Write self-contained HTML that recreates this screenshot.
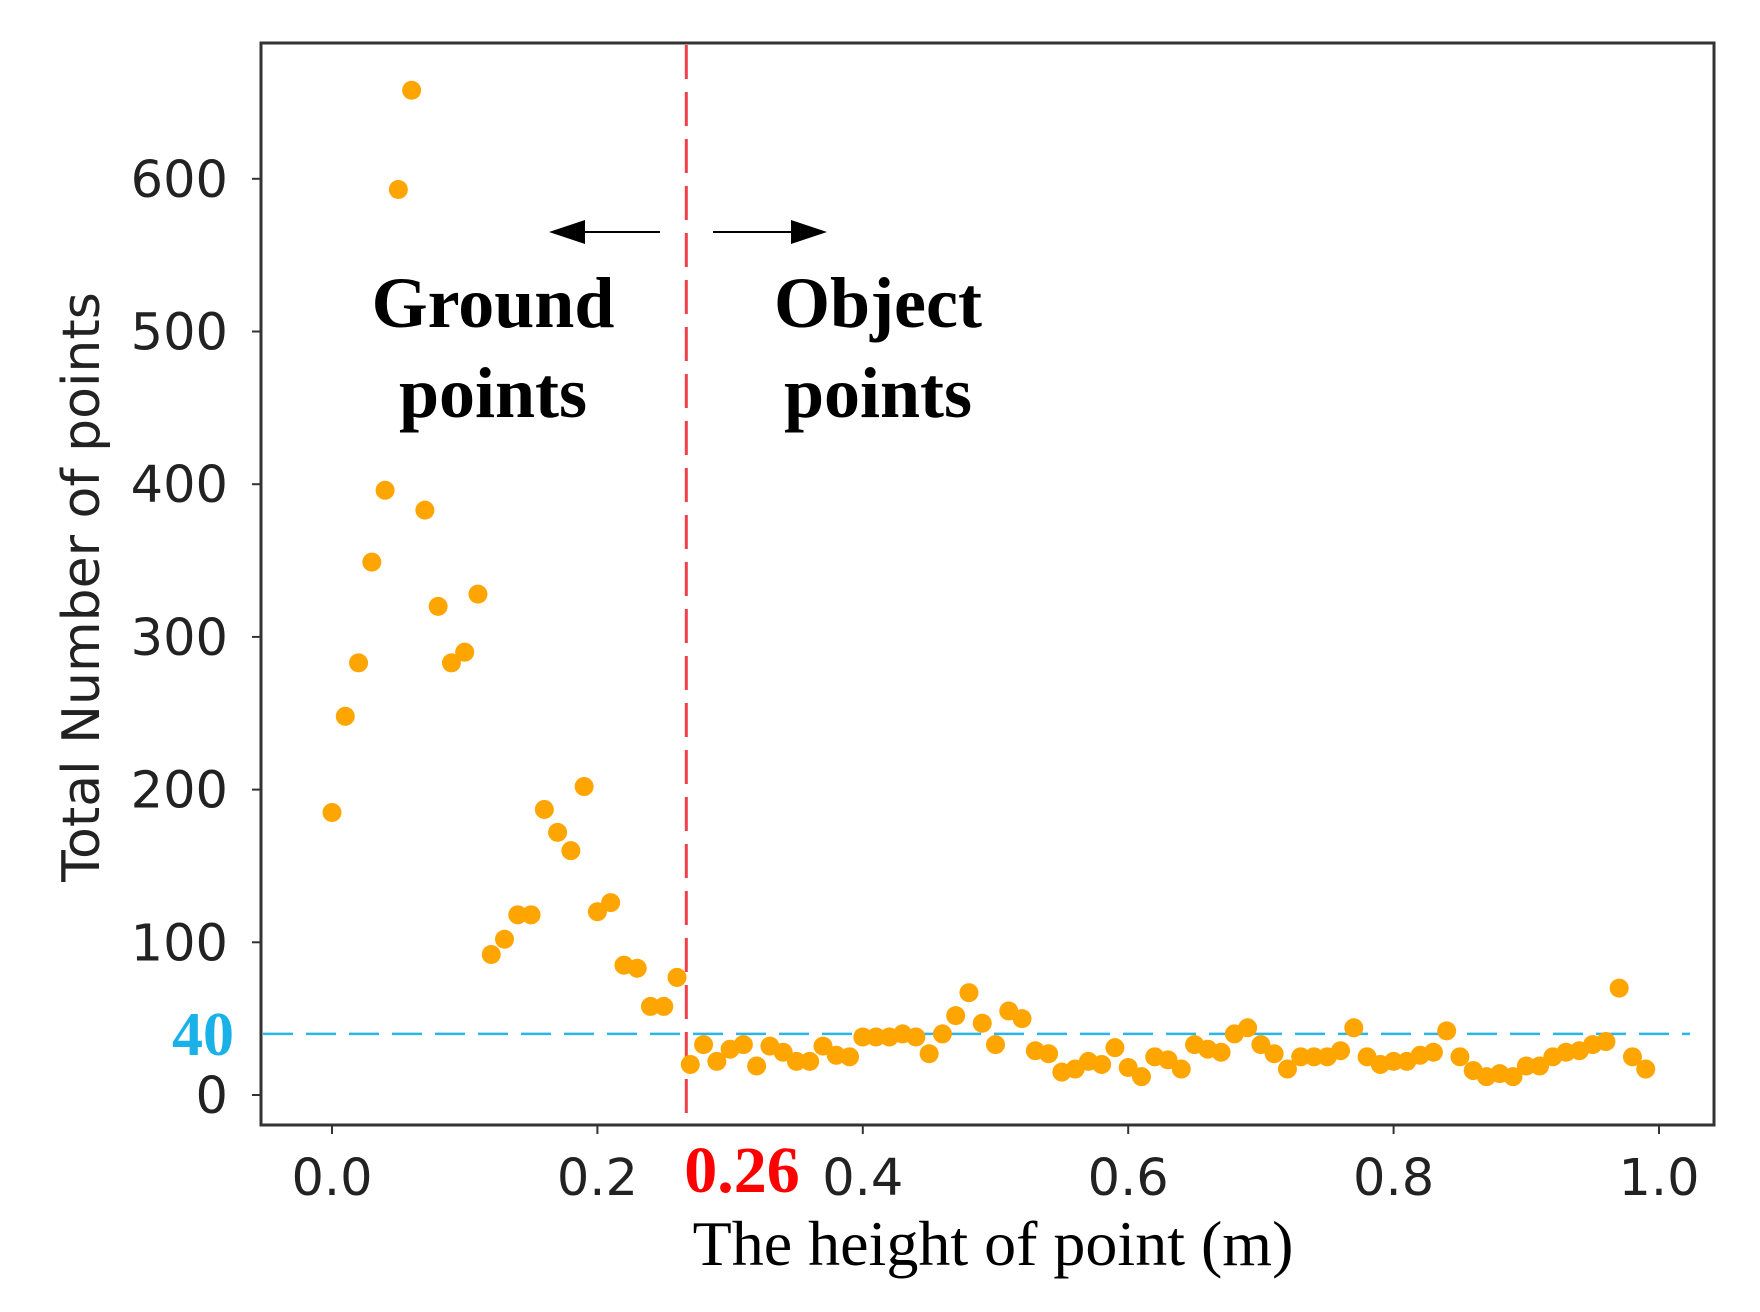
<!DOCTYPE html>
<html><head><meta charset="utf-8"><style>body{margin:0;background:#fff}svg{display:block}</style></head>
<body>
<svg id="chart" width="1760" height="1312" xmlns="http://www.w3.org/2000/svg">
<rect x="261" y="43" width="1453" height="1082" fill="#fff" stroke="#333" stroke-width="3"/>
<g id="marks"></g>
<g id="axes"></g>
<line x1="660" y1="232" x2="570" y2="232" stroke="#000" stroke-width="2"/>
<polygon points="549,232 585,220 585,244" fill="#000"/>
<line x1="713" y1="232" x2="805" y2="232" stroke="#000" stroke-width="2"/>
<polygon points="827,232 791,220 791,244" fill="#000"/>
<g font-family="Liberation Serif, serif" font-weight="bold" font-size="72" text-anchor="middle">
<text x="493" y="327">Ground</text>
<text x="493" y="417">points</text>
<text x="878" y="327">Object</text>
<text x="878" y="417">points</text>
</g>
<text x="742" y="1192" font-family="Liberation Serif, serif" font-weight="bold" font-size="66" fill="#f00" text-anchor="middle">0.26</text>
<text x="234" y="1055" font-family="Liberation Serif, serif" font-weight="bold" font-size="62" fill="#1ab0e8" text-anchor="end">40</text>
<text x="993" y="1265" font-family="Liberation Serif, serif" font-size="64" text-anchor="middle">The height of point (m)</text>
<text transform="translate(99,587) rotate(-90)" font-family="DejaVu Sans, sans-serif" font-size="52" fill="#222" text-anchor="middle">Total Number of points</text>
</svg>
<script>
const xs = [];
for (let i = 0; i < 100; i++) xs.push(i / 100);
const counts = [185,248,283,349,396,593,658,383,320,283,290,328,92,102,118,118,187,172,160,202,120,126,85,83,58,58,77,20,33,22,30,33,19,32,28,22,22,32,26,25,38,38,38,40,38,27,40,52,67,47,33,55,50,29,27,15,17,22,20,31,18,12,25,23,17,33,30,28,40,44,33,27,17,25,25,25,29,44,25,20,22,22,26,28,42,25,16,12,14,12,19,19,25,28,29,33,35,70,25,17];
const xTicks = [0.0,0.2,0.4,0.6,0.8,1.0];
const xTickLabels = ["0.0","0.2","0.4","0.6","0.8","1.0"];
const yTicks = [0,100,200,300,400,500,600];
const threshX = [0.267];
const threshY = [40];
const NS = "http://www.w3.org/2000/svg";
const X = v => 332 + v * 1327;
const Y = v => 1095 - v * 1.527;
function mk(tag, attrs, parent) { const e = document.createElementNS(NS, tag); for (const k in attrs) e.setAttribute(k, attrs[k]); parent.appendChild(e); return e; }
const axes = document.getElementById('axes');
const marks = document.getElementById('marks');
xTicks.forEach((t, i) => {
  const l = mk('line', {x1: X(t), x2: X(t), y1: 1125, y2: 1134, stroke: '#333', 'stroke-width': 2}, axes);
  
  
  const tx = mk('text', {x: X(t), y: 1195, 'font-family': 'DejaVu Sans, sans-serif', 'font-size': 51, fill: '#222', 'text-anchor': 'middle'}, axes);
  tx.textContent = xTickLabels[i];
  
  
});
yTicks.forEach(t => {
  const l = mk('line', {x1: 252, x2: 261, y1: Y(t), y2: Y(t), stroke: '#333', 'stroke-width': 2}, axes);
  
  
  const tx = mk('text', {x: 228, y: Y(t) + 18, 'font-family': 'DejaVu Sans, sans-serif', 'font-size': 51, fill: '#222', 'text-anchor': 'end'}, axes);
  tx.textContent = t;
  
  
});
const hl = mk('line', {x1: 263, x2: 1690, y1: Y(threshY[0]), y2: Y(threshY[0]), stroke: '#29b6e8', 'stroke-width': 2.5, 'stroke-dasharray': '30 13'}, marks);


const vl = mk('line', {x1: X(threshX[0]), x2: X(threshX[0]), y1: 45, y2: 1123, stroke: '#f0404a', 'stroke-width': 3, 'stroke-dasharray': '34 13'}, marks);


xs.forEach((x, i) => {
  const c = mk('circle', {cx: X(x), cy: Y(counts[i]), r: 9.5, fill: '#ffa500'}, marks);
  
  
});
</script>
</body></html>
